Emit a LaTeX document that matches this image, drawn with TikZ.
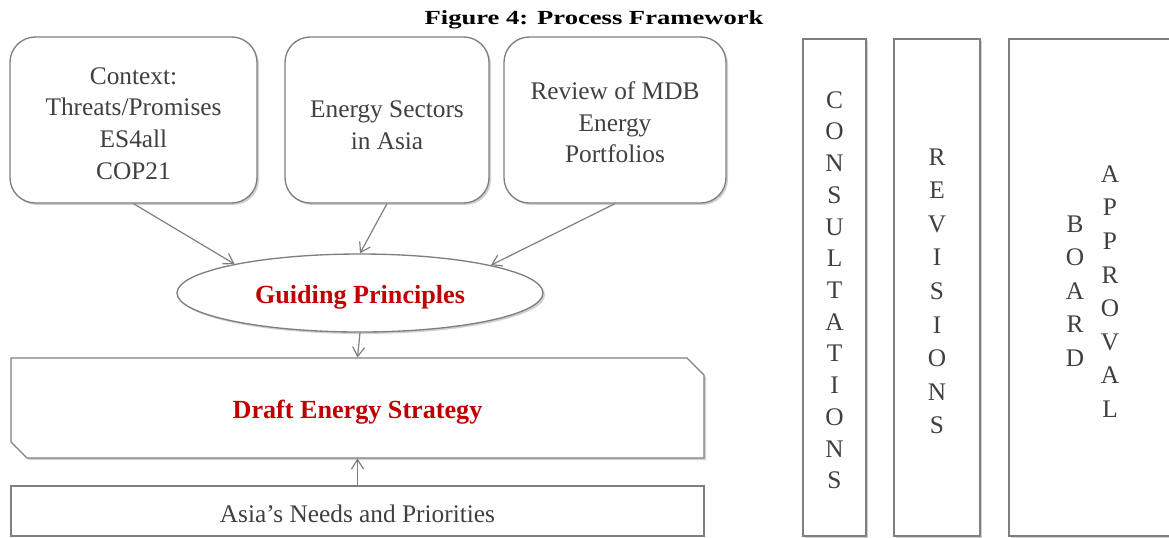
\documentclass[tikz,border=0pt]{standalone}
\usepackage{fontspec}
\setmainfont{Liberation Serif}
\usetikzlibrary{shapes.geometric,shadows,arrows.meta}

\definecolor{linegray}{RGB}{127,127,127}
\definecolor{textgray}{RGB}{64,64,64}
\definecolor{headred}{RGB}{192,0,0}

% invisible strut that pushes a stacked label down
\newcommand{\lift}[1]{\rule{0pt}{#1}}

\tikzset{every picture/.style={line width=0.75pt}}
\tikzset{
  softshadow/.style={drop shadow={shadow xshift=1.5pt,shadow yshift=-1.5pt,opacity=0.3,fill=black!60}},
  srcbox/.style={draw=linegray,line width=1pt,fill=white,rounded corners=19pt,softshadow,
    text=textgray,align=center,inner sep=0pt,minimum height=124.5pt,font=\fontsize{19}{23.8}\selectfont},
  gpellipse/.style={ellipse,draw=linegray,line width=1pt,fill=white,softshadow,inner sep=0pt,
    minimum width=274.5pt,minimum height=58.5pt,text=headred,font=\fontsize{19.6}{23}\selectfont\bfseries},
  stagebox/.style={draw=linegray,line width=1pt,fill=white,softshadow,inner sep=0pt,minimum height=372.75pt,
    text=textgray,align=center,font=\fontsize{19}{25.2}\selectfont},
  letters/.style={text=textgray,align=center,inner sep=0pt,font=\fontsize{19}{25.2}\selectfont},
  flow/.style={draw=linegray,line width=0.9pt,-{Straight Barb[length=7pt,width=9pt]}}
}

\begin{document}
\begin{tikzpicture}[x=0.75pt,y=0.75pt,yscale=-1,xscale=1]
\useasboundingbox (0,0) rectangle (1169,537);

% Title
\node (title) at (594,20) {\scalebox{1.33}[1]{\fontsize{15}{18}\selectfont\bfseries Figure 4: Process Framework}};

%Shape: Rounded Rect (inputs)
\node[srcbox,minimum width=185.25pt] (ctx) at (133.5,120) {\lift{17.6pt}Context:\\Threats/Promises\\ES4all\\COP21};
\node[srcbox,minimum width=153pt] (sectors) at (387,120) {\lift{20.6pt}Energy Sectors\\in Asia};
\node[srcbox,minimum width=166.5pt] (review) at (615,120) {\lift{16.9pt}Review of MDB\\Energy\\Portfolios};

%Shape: Ellipse
\node[gpellipse,text height=20.4pt,text depth=4.2pt] (gp) at (360,293) {Guiding Principles};

%Shape: Snip Diagonal Corner Rect
\draw[draw=linegray,line width=1pt,fill=white,softshadow] (11,358) -- (687,358) -- (704,375) -- (704,458) -- (27,458) -- (11,442) -- cycle;
% Text Node
\node[text=headred,font=\fontsize{19.6}{23}\selectfont\bfseries,minimum width=519.75pt,minimum height=75pt,inner sep=0pt,text height=20.4pt,text depth=4.2pt] (draft) at (357.5,408) {Draft Energy Strategy};

%Shape: Rectangle
\node[draw=linegray,line width=1pt,fill=white,text=textgray,font=\fontsize{19}{23}\selectfont,minimum width=519.75pt,minimum height=37.5pt,inner sep=0pt,text height=17.1pt,text depth=0pt] (needs) at (357.5,511) {Asia’s Needs and Priorities};

%Shape: Tall Rect (stages)
\node[stagebox,minimum width=47.25pt,font=\fontsize{19}{23.8}\selectfont] (consult) at (834.5,287.5) {\lift{16.7pt}C\\O\\N\\S\\U\\L\\T\\A\\T\\I\\O\\N\\S};
\node[stagebox,minimum width=64.5pt] (revise) at (937,287.5) {\lift{18.1pt}R\\E\\V\\I\\S\\I\\O\\N\\S};
\node[stagebox,minimum width=135.75pt] (board) at (1099.5,287.5) {};
% Text Node
\node[letters] (boardtxt) at (1075,291) {B\\O\\A\\R\\D};
% Text Node
\node[letters] (approvetxt) at (1110,291.5) {A\\P\\P\\R\\O\\V\\A\\L};

% Connectors
\draw[flow] (ctx.south) -- (gp.167.8);
\draw[flow] (sectors.south) -- (gp.north);
\draw[flow] (review.south) -- (gp.12.2);
\draw[flow] (gp.south) -- (draft.north);
\draw[flow] (needs.north) -- (draft.south);

\end{tikzpicture}
\end{document}
